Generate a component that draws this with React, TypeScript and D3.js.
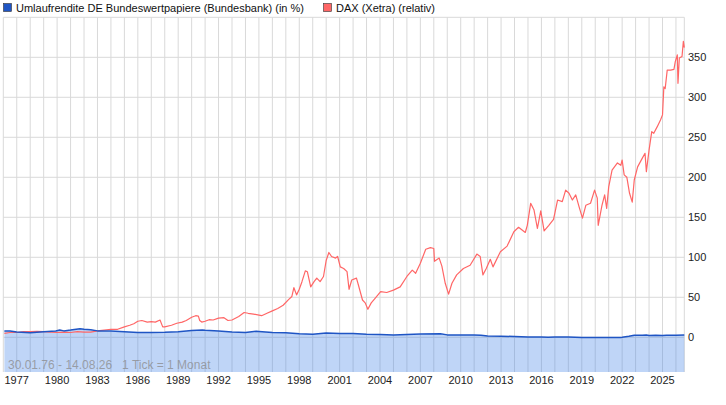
import React from "react";
import * as d3 from "d3";

// Umlaufrendite (in %)
const yieldYears = [
  1976.08, 1976.5, 1977.0, 1978.0, 1978.5, 1979.0, 1979.9, 1980.2, 1980.5, 1981.0,
  1981.7, 1982.0, 1982.5, 1983.0, 1984.0, 1985.0, 1986.0, 1987.0, 1988.0, 1989.0,
  1990.0, 1990.8, 1991.0, 1992.0, 1993.0, 1994.0, 1994.8, 1995.0, 1996.0, 1997.0,
  1998.0, 1999.0, 2000.0, 2001.0, 2002.0, 2003.0, 2004.0, 2005.0, 2006.0, 2007.0,
  2008.5, 2009.0, 2010.0, 2011.0, 2011.5, 2012.0, 2013.0, 2014.0, 2015.0, 2016.0,
  2016.5, 2017.0, 2018.0, 2019.0, 2020.0, 2021.0, 2021.9, 2022.0, 2022.5, 2022.9,
  2023.5, 2023.8, 2024.0, 2024.5, 2025.0, 2025.3, 2026.0, 2026.62,
];
const yieldValues = [
  8.0, 7.8, 6.5, 5.8, 6.3, 6.8, 7.8, 9.2, 8.0, 9.0,
  10.7, 10.0, 9.3, 8.0, 8.0, 7.0, 6.0, 6.0, 6.2, 7.0,
  8.5, 9.0, 8.7, 8.0, 6.5, 6.0, 7.5, 7.3, 6.0, 5.6,
  4.5, 3.8, 5.3, 4.6, 4.8, 3.8, 3.6, 3.0, 3.5, 4.2,
  4.5, 3.0, 2.8, 2.8, 2.6, 1.5, 1.3, 1.0, 0.4, 0.3,
  -0.1, 0.3, 0.5, -0.2, -0.4, -0.4, -0.2, 0.0, 1.2, 2.4,
  2.5, 2.8, 2.2, 2.5, 2.3, 2.6, 2.6, 2.7,
];

// DAX (relativ)
const daxYears = [
  1976.08, 1976.5, 1977.0, 1977.5, 1978.0, 1978.5, 1979.0, 1979.5, 1980.0, 1980.5,
  1981.0, 1981.5, 1982.0, 1982.5, 1983.0, 1983.5, 1984.0, 1984.5, 1985.0, 1985.4,
  1985.7, 1986.0, 1986.3, 1986.7, 1987.0, 1987.3, 1987.65, 1987.85, 1988.0, 1988.5,
  1988.9, 1989.3, 1989.6, 1990.0, 1990.3, 1990.5, 1990.6, 1990.75, 1991.0, 1991.3,
  1991.6, 1992.0, 1992.4, 1992.7, 1993.0, 1993.5, 1993.9, 1994.2, 1994.6, 1995.2,
  1995.6, 1996.0, 1996.4, 1996.8, 1997.2, 1997.45, 1997.6, 1997.8, 1998.0, 1998.2,
  1998.45, 1998.6, 1998.85, 1999.1, 1999.3, 1999.55, 1999.8, 2000.0, 2000.2, 2000.4,
  2000.7, 2000.85, 2001.05, 2001.3, 2001.55, 2001.7, 2001.9, 2002.25, 2002.4, 2002.7,
  2002.9, 2003.1, 2003.35, 2003.65, 2004.05, 2004.5, 2005.0, 2005.5, 2006.0, 2006.4,
  2006.65, 2007.0, 2007.4, 2007.75, 2008.0, 2008.05, 2008.4, 2008.6, 2008.85, 2009.1,
  2009.35, 2009.7, 2010.2, 2010.7, 2011.2, 2011.45, 2011.65, 2011.9, 2012.2, 2012.4,
  2012.95, 2013.45, 2013.95, 2014.3, 2014.8, 2014.95, 2015.2, 2015.45, 2015.7, 2015.95,
  2016.2, 2016.55, 2016.9, 2017.2, 2017.55, 2017.8, 2018.05, 2018.3, 2018.55, 2018.8,
  2019.05, 2019.3, 2019.65, 2019.95, 2020.15, 2020.22, 2020.5, 2020.7, 2020.85, 2021.0,
  2021.25, 2021.65, 2021.9, 2022.0, 2022.15, 2022.35, 2022.55, 2022.75, 2022.9, 2023.15,
  2023.5, 2023.7, 2023.8, 2024.0, 2024.2, 2024.35, 2024.6, 2024.85, 2025.0, 2025.1,
  2025.2, 2025.35, 2025.6, 2025.85, 2025.95, 2026.1, 2026.15, 2026.25, 2026.45, 2026.55,
  2026.62,
];
const daxValues = [
  5, 6, 6, 7, 7, 7.5, 7, 6.5, 6, 6.5,
  6, 7, 6.5, 6.5, 8, 9, 10, 10, 13, 15,
  17, 20, 21, 19, 19.5, 19, 21.6, 13, 13, 15,
  17.5, 19, 21, 25, 27, 26.5, 21, 19, 20, 22,
  21.6, 24, 24.5, 21, 21.6, 26, 31, 30, 29, 27,
  30, 33, 36, 40, 47, 51, 62, 53, 60, 69.5,
  83, 82, 63, 69.5, 74, 69.5, 76, 96, 106, 101,
  99, 101, 88, 86, 82, 60, 71.6, 74, 65, 46.6,
  43, 35, 43, 49, 57, 56, 59, 63, 76, 84,
  80, 92.5, 110, 112, 111, 95, 99, 89, 67.5, 54,
  67.5, 78, 86, 90, 104, 101, 78, 86, 97.5, 88,
  107, 114, 132, 137.5, 131, 140, 167.5, 159, 136, 158,
  133, 140, 147.5, 171.6, 169.6, 184, 180, 171.6, 178, 163,
  149, 165, 167.5, 184, 174, 140, 165, 178, 161, 188,
  209, 218, 215, 221.6, 203, 200, 180, 169, 196.6, 213,
  224, 230, 207, 234, 257, 255, 263, 271.6, 278, 313,
  311, 334, 334, 335, 344.5, 353, 317.5, 349, 351, 370,
  362,
];

const yTicks = [0, 50, 100, 150, 200, 250, 300, 350, 400];
const xLabelYears = [1977, 1980, 1983, 1986, 1989, 1992, 1995, 1998, 2001, 2004, 2007, 2010, 2013, 2016, 2019, 2022, 2025];
const gridYears = d3.range(1976, 2027);

const legendItems = [
  { label: "Umlaufrendite DE Bundeswertpapiere (Bundesbank) (in %)", color: "#1f55c4" },
  { label: "DAX (Xetra) (relativ)", color: "#ff6666" },
];
const caption = "30.01.76 - 14.08.26   1 Tick = 1 Monat";

const W = 726;
const H = 405;
const left = 3.3;
const right = 684.3;
const top = 17.3;
const bottom = 372;
const font = "'Liberation Sans', Arial, sans-serif";

export default function App() {
  const x = d3.scaleLinear().domain([1976.0, 2026.62]).range([left, right]);
  const y = d3.scaleLinear().domain([-43.4, 400]).range([bottom, top]);

  const yieldData = yieldYears.map((t, i) => [t, yieldValues[i]]);
  const daxData = daxYears.map((t, i) => [t, daxValues[i]]);

  const line = d3
    .line()
    .x((d) => x(d[0]))
    .y((d) => y(d[1]));
  const area = d3
    .area()
    .x((d) => x(d[0]))
    .y0(bottom)
    .y1((d) => y(d[1]));

  return (
    <svg
      width={W}
      height={H}
      style={{ position: "absolute", left: 0, top: 0, background: "#fff" }}
      fontFamily={font}
    >
      {/* grid */}
      {yTicks.map((v) => (
        <line key={"h" + v} x1={left} x2={right} y1={y(v)} y2={y(v)} stroke="#d9d9d9" strokeWidth={1} />
      ))}
      {gridYears.map((yr) => (
        <line key={"v" + yr} x1={x(yr)} x2={x(yr)} y1={top} y2={bottom} stroke="#d9d9d9" strokeWidth={1} />
      ))}
      <line x1={right} x2={right} y1={top} y2={bottom} stroke="#d9d9d9" strokeWidth={1} />

      {/* yield area + lines */}
      <path d={area(yieldData)} fill="rgb(72,135,232)" fillOpacity={0.35} />
      <path d={line(daxData)} fill="none" stroke="#ff6666" strokeWidth={1.2} strokeLinejoin="round" />
      <path d={line(yieldData)} fill="none" stroke="#1f55c4" strokeWidth={1.5} strokeLinejoin="round" />

      {/* caption */}
      <text x={8} y={369} fontSize={12} fill="#8a8a8a" fillOpacity={0.75} xmlSpace="preserve" style={{ whiteSpace: "pre" }}>
        {caption}
      </text>

      {/* y axis labels */}
      {yTicks.slice(0, -1).map((v) => (
        <text key={"yl" + v} x={688} y={y(v) + 4} fontSize={11} fill="#222">
          {v}
        </text>
      ))}

      {/* x axis labels */}
      {xLabelYears.map((yr) => (
        <text key={"xl" + yr} x={x(yr)} y={384} fontSize={11} fill="#222" textAnchor="middle">
          {yr}
        </text>
      ))}

      {/* legend */}
      <rect x={3.5} y={3.5} width={8} height={8} fill={legendItems[0].color} stroke="#333" strokeWidth={0.6} />
      <text x={16} y={11.5} fontSize={11} fill="#111">
        {legendItems[0].label}
      </text>
      <rect x={323.5} y={3.5} width={8} height={8} fill={legendItems[1].color} stroke="#333" strokeWidth={0.6} />
      <text x={336} y={11.5} fontSize={11} fill="#111">
        {legendItems[1].label}
      </text>
    </svg>
  );
}
